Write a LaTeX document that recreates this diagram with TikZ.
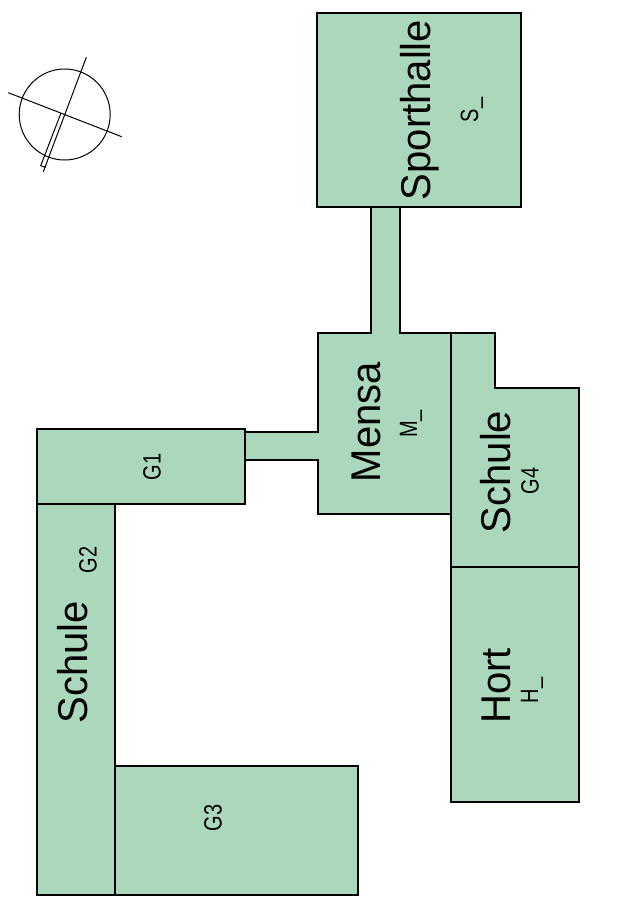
\documentclass[tikz,border=0pt]{standalone}
\usepackage{fontspec}
\setmainfont{Liberation Sans}
\definecolor{roomgreen}{HTML}{ABD8BC}
\tikzset{
  room/.style={fill=roomgreen,draw=black,line width=1.1pt,line join=miter},
  roomfill/.style={fill=roomgreen,draw=none},
  big/.style={rotate=90,inner sep=0pt,font=\fontsize{40}{40}\selectfont},
  small/.style={rotate=90,inner sep=0pt,font=\fontsize{20}{20}\selectfont},
  compass/.style={draw=black,line width=1pt}
}
\newcommand{\bigtxt}[1]{\scalebox{1}[1.04]{#1}}
\newcommand{\smalltxt}[1]{\scalebox{1}[1.25]{#1}}
\begin{document}
\begin{tikzpicture}[x=1pt,y=-1pt]
\useasboundingbox (0,0) rectangle (628,908);
% connecting corridors
\draw[room] (371,207) rectangle (400,333);
\draw[room] (245,432) rectangle (318,460);
% buildings
\draw[room] (317,13) rectangle (521,207);
\draw[room] (318,333) rectangle (451,514);
\fill[roomfill] (371.6,207.6) rectangle (399.4,333.6);
\fill[roomfill] (245.6,432.6) rectangle (318.6,459.4);
\draw[room] (451,333) -- (495,333) -- (495,388) -- (579,388) -- (579,567) -- (451,567) -- cycle;
\draw[room] (451,567) rectangle (579,802);
\draw[room] (37,429) rectangle (245,504);
\draw[room] (37,504) rectangle (115,895);
\draw[room] (115,766) rectangle (358,895);
% compass
\coordinate (cc) at (64.7,114.5);
\draw[compass] (cc) circle (45.5);
\coordinate (na) at (86.3,57.3); \coordinate (nb) at (43.3,171.7);
\coordinate (ea) at (8.3,92.7); \coordinate (eb) at (121.7,136.7);
\coordinate (ra) at (61,113); \coordinate (rb) at (40.7,165.7); \coordinate (rc) at (45.7,167.3);
\draw[compass] (na) -- (nb);
\draw[compass] (ea) -- (eb);
\draw[compass] (ra) -- (rb) -- (rc);
% labels
\node[big] (sporthalle) at (419.5,110) {\bigtxt{Sporthalle}};
\node[small] (s) at (472,110) {\smalltxt{S\_}};
\node[big] (mensa) at (366,422) {\bigtxt{Mensa}};
\node[small] (m) at (411,424) {\smalltxt{M\_}};
\node[big] (schule4) at (496,472) {\bigtxt{Schule}};
\node[small] (g4) at (530,481) {\smalltxt{G4}};
\node[big] (hort) at (496,686) {\bigtxt{Hort}};
\node[small] (h) at (532,690.5) {\smalltxt{H\_}};
\node[big] (schule2) at (73,662) {\bigtxt{Schule}};
\node[small] (g2) at (88,560) {\smalltxt{G2}};
\node[small] (g1) at (152,467) {\smalltxt{G1}};
\node[small] (g3) at (213,818) {\smalltxt{G3}};
\end{tikzpicture}
\end{document}
